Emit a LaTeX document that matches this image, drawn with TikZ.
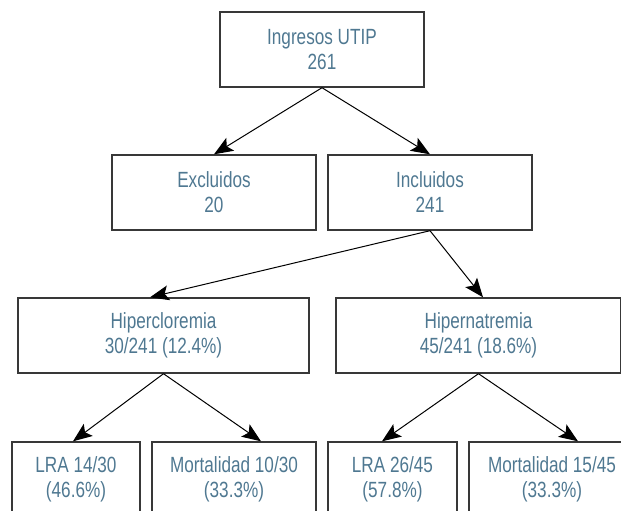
\documentclass[tikz,border=0pt]{standalone}
\usepackage{fontspec}
\setmainfont{Liberation Sans}[FakeStretch=0.78]
\usepackage{tikz}
\usetikzlibrary{arrows.meta}
\usepackage{xcolor}
\definecolor{ink}{rgb}{0.31,0.47,0.57}
\tikzset{
  every node/.style={
    text=ink, font=\fontsize{22}{25}\selectfont, align=center
  },
  box/.style={
    draw=black!78, line width=1.4pt, inner sep=0pt,
    minimum height=75pt
  },
  link/.style={
    line width=1pt, -{Stealth[length=19pt,width=15pt,inset=4pt]}
  }
}

\begin{document}
\begin{tikzpicture}[x=1pt,y=-1pt]
    %\draw[gray, very thin] (0,0) grid[step=50] (621,511);
    \clip (0,0) rectangle (621,511);
    \node[box, minimum width=204pt] (ing) at (322,49.5) {Ingresos UTIP\\261};
    \node[box, minimum width=204pt] (exc) at (214,192.5) {Excluidos\\20};
    \node[box, minimum width=204pt] (inc) at (430,192.5) {Incluidos\\241};
    \node[box, minimum width=291pt] (hcl) at (163.5,335.5) {Hipercloremia\\30/241 (12.4\%)};
    \node[box, minimum width=285pt] (hna) at (478.5,335.5) {Hipernatremia\\45/241 (18.6\%)};
    \node[box, minimum width=128pt] (lraA) at (76,479.5) {LRA 14/30\\(46.6\%)};
    \node[box, minimum width=164pt] (morA) at (234,479.5) {Mortalidad 10/30\\(33.3\%)};
    \node[box, minimum width=129pt] (lraB) at (392.5,479.5) {LRA 26/45\\(57.8\%)};
    \node[box, minimum width=166pt] (morB) at (552,479.5) {Mortalidad 15/45\\(33.3\%)};

    \draw[link] (ing.south) -- (exc.north);
    \draw[link] (ing.south) -- (inc.north);
    \draw[link] (inc.south) -- ([xshift=-13.5pt]hcl.north);
    \draw[link] (inc.south) -- ([xshift=4.5pt]hna.north);
    \draw[link] (hcl.south) -- ([xshift=-3pt]lraA.north);
    \draw[link] (hcl.south) -- ([xshift=27pt]morA.north);
    \draw[link] (hna.south) -- ([xshift=-10.5pt]lraB.north);
    \draw[link] (hna.south) -- ([xshift=26pt]morB.north);
\end{tikzpicture}
\end{document}
